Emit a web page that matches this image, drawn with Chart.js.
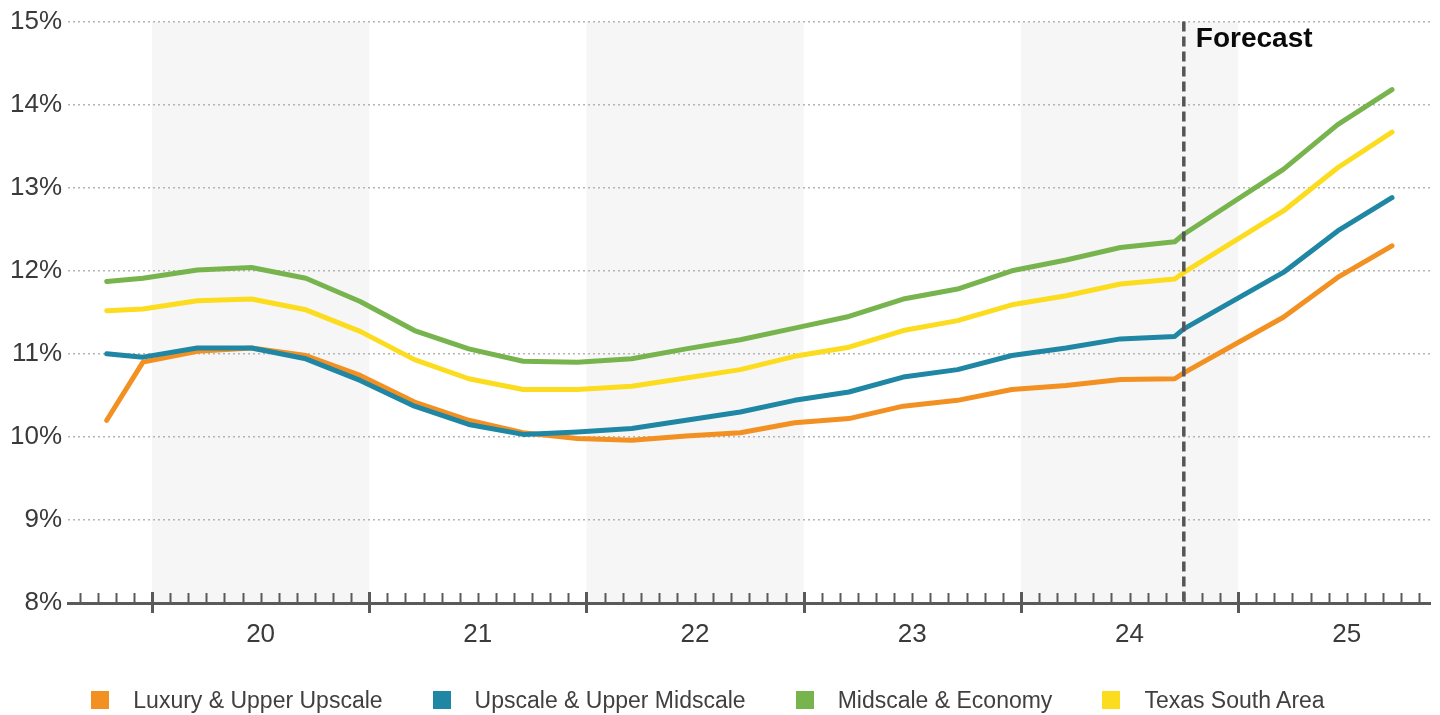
<!DOCTYPE html>
<html>
<head>
<meta charset="utf-8">
<title>Occupancy by segment</title>
<script src="https://cdn.jsdelivr.net/npm/chart.js@4.4.1/dist/chart.umd.min.js"></script>
<style>
  html, body { margin: 0; padding: 0; background: #fff; }
  #wrap { position: relative; width: 1440px; height: 715px; }
  #legend {
    position: absolute; left: 0; top: 686px; width: 1416px;
    display: flex; justify-content: center; gap: 50px;
    font: 23px "Liberation Sans", Arial, sans-serif; line-height: 28px; color: #404040;
  }
  .item { display: flex; align-items: center; }
  .box { width: 18px; height: 18px; margin-right: 24px; }
</style>
</head>
<body>
<div id="wrap">
  <canvas id="chart" width="1440" height="715"></canvas>
  <div id="legend"></div>
</div>
<script>
// x values are months counted from the start of Jan 2020
const periods = [-2.5, -0.5, 2.5, 5.5, 8.5, 11.5, 14.5, 17.5, 20.5, 23.5, 26.5, 29.5, 32.5,
  35.5, 38.5, 41.5, 44.5, 47.5, 50.5, 53.5, 56.5, 57, 62.5, 65.5, 68.5];

const luxury = [10.20, 10.90, 11.03, 11.07, 10.98, 10.74, 10.42, 10.20, 10.05, 9.98, 9.96, 10.01, 10.05,
  10.17, 10.22, 10.37, 10.44, 10.57, 10.62, 10.69, 10.70, 10.77, 11.44, 11.92, 12.30];
const upscale = [11.00, 10.96, 11.07, 11.07, 10.94, 10.68, 10.37, 10.15, 10.03, 10.06, 10.10, 10.20, 10.30,
  10.44, 10.54, 10.72, 10.81, 10.98, 11.07, 11.18, 11.21, 11.30, 11.98, 12.48, 12.88];
const midscale = [11.87, 11.91, 12.01, 12.04, 11.91, 11.63, 11.28, 11.06, 10.91, 10.90, 10.94, 11.06, 11.17,
  11.31, 11.45, 11.66, 11.78, 12.00, 12.13, 12.28, 12.35, 12.44, 13.22, 13.76, 14.18];
const texasSouth = [11.52, 11.54, 11.64, 11.66, 11.53, 11.27, 10.93, 10.70, 10.57, 10.57, 10.61, 10.71, 10.81,
  10.97, 11.08, 11.28, 11.40, 11.59, 11.70, 11.84, 11.90, 11.98, 12.72, 13.24, 13.67];

const seriesNames = ['Luxury & Upper Upscale', 'Upscale & Upper Midscale', 'Midscale & Economy', 'Texas South Area'];
const seriesColors = ['#f39022', '#1f86a4', '#78b44d', '#fcdc1e'];

const yearLabels = ['20', '21', '22', '23', '24', '25'];
const yearStarts = [0, 12, 24, 36, 48, 60];
const shadedYears = [[0, 12], [24, 36], [48, 60]];
const yTicks = [8, 9, 10, 11, 12, 13, 14, 15];
const axisStart = -4.64;
const axisEnd = 70.6;
const forecastStart = 57;

const family = '"Liberation Sans", Arial, sans-serif';
Chart.defaults.font.family = family;

function toPoints(values) {
  return values.map((v, i) => ({ x: periods[i], y: v }));
}

const decor = {
  id: 'decor',
  beforeDraw(chart) {
    const { ctx, chartArea: a, scales: { x } } = chart;
    ctx.save();
    ctx.fillStyle = '#f6f6f6';
    shadedYears.forEach(([s, e]) => {
      const x0 = x.getPixelForValue(s);
      const x1 = x.getPixelForValue(e);
      ctx.fillRect(x0, a.top, x1 - x0, a.bottom - a.top);
    });
    ctx.restore();
  },
  afterDatasetsDraw(chart) {
    const { ctx, chartArea: a, scales: { x } } = chart;
    const fx = x.getPixelForValue(forecastStart);
    ctx.save();
    ctx.strokeStyle = '#555';
    ctx.lineWidth = 3.5;
    ctx.setLineDash([10, 5]);
    ctx.beginPath();
    ctx.moveTo(fx, a.top);
    ctx.lineTo(fx, a.bottom);
    ctx.stroke();
    ctx.setLineDash([]);
    ctx.fillStyle = '#0a0a0a';
    ctx.font = 'bold 28px ' + family;
    ctx.textBaseline = 'middle';
    ctx.fillText('Forecast', fx + 12, a.top + 18);
    ctx.restore();
  },
  afterDraw(chart) {
    // monthly minor ticks above the axis, longer ticks at year boundaries
    const { ctx, chartArea: a, scales: { x } } = chart;
    ctx.save();
    ctx.strokeStyle = '#5a5a5a';
    for (let m = Math.ceil(axisStart); m <= axisEnd; m++) {
      const px = Math.round(x.getPixelForValue(m)) + 0.5;
      ctx.beginPath();
      if (yearStarts.includes(m)) {
        ctx.lineWidth = 3;
        ctx.moveTo(px, a.bottom - 11);
        ctx.lineTo(px, a.bottom + 10);
      } else {
        ctx.lineWidth = 2;
        ctx.moveTo(px, a.bottom - 10);
        ctx.lineTo(px, a.bottom);
      }
      ctx.stroke();
    }
    ctx.restore();
  }
};

const ctx = document.getElementById('chart').getContext('2d');
const chart = new Chart(ctx, {
  type: 'line',
  data: {
    datasets: [luxury, upscale, midscale, texasSouth].map((values, i) => ({
      label: seriesNames[i],
      data: toPoints(values),
      borderColor: seriesColors[i],
      backgroundColor: seriesColors[i],
      borderWidth: 5,
      pointRadius: 0,
      tension: 0,
      borderCapStyle: 'round',
      borderJoinStyle: 'round',
      order: i === 0 ? 1 : 0
    }))
  },
  options: {
    responsive: false,
    devicePixelRatio: 1,
    animation: false,
    events: [],
    layout: { padding: { top: 20, right: 10, left: 0, bottom: 0 } },
    plugins: { legend: { display: false }, tooltip: { enabled: false } },
    scales: {
      x: {
        type: 'linear',
        min: axisStart,
        max: axisEnd,
        grid: { display: false, drawTicks: false },
        border: { display: true, color: '#5a5a5a', width: 3 },
        afterBuildTicks: axis => { axis.ticks = yearStarts.map(v => ({ value: v + 6 })); },
        ticks: {
          autoSkip: false,
          maxRotation: 0,
          padding: 16,
          color: '#3a3a3a',
          font: { size: 26 },
          callback: (v, i) => yearLabels[i]
        },
        afterFit: s => { s.height = 112; }
      },
      y: {
        min: 8,
        max: 15,
        afterBuildTicks: axis => { axis.ticks = yTicks.map(v => ({ value: v })); },
        grid: { color: '#b4b4b4', lineWidth: 1.5, drawTicks: false },
        border: { display: false, dash: [2, 3] },
        ticks: {
          padding: 6,
          color: '#3a3a3a',
          font: { size: 26 },
          callback: v => v + '%'
        },
        afterFit: s => { s.width = 68; }
      }
    }
  },
  plugins: [decor]
});

// legend below the chart
const legend = document.getElementById('legend');
seriesNames.forEach((name, i) => {
  const item = document.createElement('div');
  item.className = 'item';
  const box = document.createElement('span');
  box.className = 'box';
  box.style.background = seriesColors[i];
  const label = document.createElement('span');
  label.textContent = name;
  item.appendChild(box);
  item.appendChild(label);
  legend.appendChild(item);
});
</script>
</body>
</html>
